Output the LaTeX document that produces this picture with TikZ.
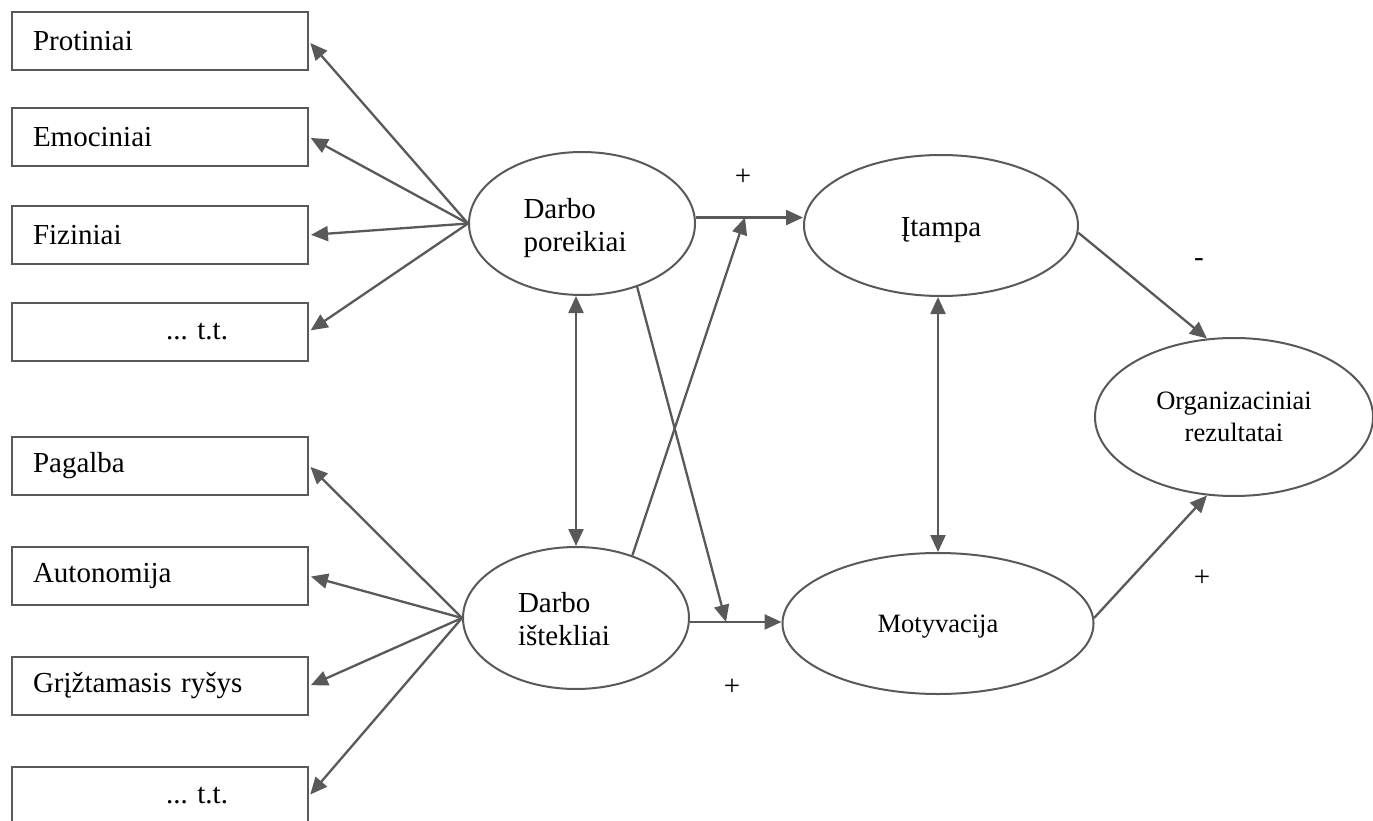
\documentclass[tikz,border=0pt]{standalone}
\usepackage{fontspec}
\setmainfont{Liberation Serif}
\usetikzlibrary{arrows.meta,shapes.geometric}
\definecolor{linegray}{RGB}{89,89,89}
\frenchspacing
% lower the content while keeping its natural box size
\newcommand{\lowered}[2]{\raisebox{-#1}[\height][\depth]{\begin{tabular}{@{}l@{}}#2\end{tabular}}}
\begin{document}
\begin{tikzpicture}[x=1pt,y=-1pt,
  bigtext/.style={font=\fontsize{29}{33}\selectfont},
  smalltext/.style={font=\fontsize{26.5}{32}\selectfont},
  box/.style={draw=linegray,line width=2pt,rectangle,minimum height=58pt,
    text width=254pt,inner xsep=21pt,inner ysep=0pt,align=left,bigtext},
  oval/.style={draw=linegray,line width=2pt,ellipse,inner sep=0pt},
  arr/.style={draw=linegray,line width=2.3pt,-{Triangle[length=17pt,width=15pt]}},
  darr/.style={draw=linegray,line width=2.3pt,
    {Triangle[length=17pt,width=15pt]}-{Triangle[length=17pt,width=15pt]}},
  sign/.style={bigtext,inner sep=0pt}]
\clip (0,0) rectangle (1373,821);
\fill[white] (0,0) rectangle (1373,821);

% demand boxes
\node[box] (b1) at (160,41.5) {Protiniai};
\node[box] (b2) at (160,137) {Emociniai};
\node[box] (b3) at (160,235) {Fiziniai};
\node[box] (b4) at (160,331.5) {\hspace*{133pt}... t.t.};
% resource boxes
\node[box] (b5) at (160,465.5) {Pagalba};
\node[box] (b6) at (160,576) {Autonomija};
\node[box] (b7) at (160,686) {Grįžtamasis ryšys};
\node[box] (b8) at (160,796) {\hspace*{133pt}... t.t.};

% constructs
\node[oval,minimum width=226pt,minimum height=143pt,bigtext,text width=117pt,align=left]
  (dp) at (582,223.5) {\lowered{4.5pt}{Darbo\\poreikiai}};
\node[oval,minimum width=226pt,minimum height=142pt,bigtext,text width=116pt,align=left]
  (di) at (576,618) {\lowered{4.5pt}{Darbo\\ištekliai}};
\node[oval,minimum width=274pt,minimum height=141pt,bigtext] (it) at (941,225.5)
  {\raisebox{-5pt}[\height][\depth]{Įtampa}};
\node[oval,minimum width=311pt,minimum height=141pt,smalltext] (mot) at (938,623.5)
  {\raisebox{-3pt}[\height][\depth]{Motyvacija}};
\node[oval,minimum width=278pt,minimum height=158pt,smalltext,align=center]
  (org) at (1234,417) {Organizaciniai\\rezultatai};

% points where the cross paths meet the main paths
\coordinate (xm1) at (745,0);
\coordinate (xm2) at (726,0);

% indicator arrows
\foreach \b in {b1,b2,b3,b4} \draw[arr,shorten >=2pt] (dp.west) -- (\b.east);
\foreach \b in {b5,b6,b7,b8} \draw[arr,shorten >=2pt] (di.west) -- (\b.east);

% main paths
\draw[arr] (dp.3) -- (dp.3 -| it.west);
\draw[arr] (di.-2) -- (di.-2 -| mot.west);
\draw[arr] (di.48) -- (xm1 |- dp.3);
\draw[arr] (dp.-49) -- (xm2 |- di.-2);
\draw[darr] (di.north) -- (di.north |- dp.south);
\draw[darr] (mot.north) -- (mot.north |- it.south);
\draw[arr] (it.-3) -- (org.109);
\draw[arr] (mot.2) -- (org.-109);

% signs
\node[sign] (s1) at (743,177) {+};
\node[sign] (s2) at (732,687) {+};
\node[sign] (s3) at (1199,263) {-};
\node[sign] (s4) at (1202,578) {+};
\end{tikzpicture}
\end{document}
